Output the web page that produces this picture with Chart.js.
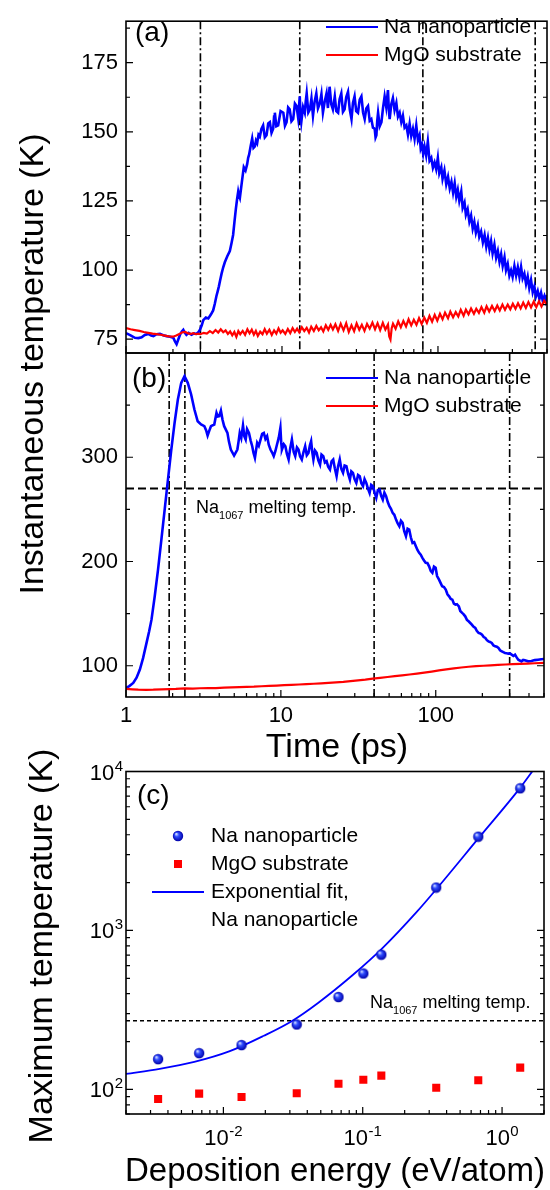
<!DOCTYPE html>
<html>
<head>
<meta charset="utf-8">
<script src="https://cdn.jsdelivr.net/npm/chart.js@4.4.1/dist/chart.umd.min.js"></script>
<style>
  html, body { margin: 0; padding: 0; background: #fff; }
  #wrap { position: relative; width: 550px; height: 1190px; }
  #wrap canvas { position: absolute; left: 0; top: 0; }
</style>
</head>
<body>
<div id="wrap">
  <canvas id="panelA" width="550" height="1190"></canvas>
  <canvas id="panelB" width="550" height="1190"></canvas>
  <canvas id="panelC" width="550" height="1190"></canvas>
</div>
<script>
// --- Panel (a): instantaneous temperature, [time (ps), T (K)] ---
const naA = [[1.00,77.2],[1.07,76.4],[1.14,75.5],[1.20,75.4],[1.26,75.7],[1.32,76.5],[1.39,76.9],[1.45,76.3],[1.50,76.1],[1.57,76.8],[1.65,76.9],[1.73,76.4],[1.82,76.1],[1.92,75.9],[2.01,75.5],[2.06,74.2],[2.11,73.2],[2.16,74.8],[2.22,76.6],[2.28,77.8],[2.33,78.4],[2.38,77.4],[2.44,76.6],[2.52,77.3],[2.63,76.6],[2.73,77.1],[2.83,76.9],[2.92,77.6],[2.98,78.4],[3.06,80.0],[3.13,81.9],[3.25,82.8],[3.37,82.5],[3.50,83.9],[3.62,85.4],[3.71,87.8],[3.80,90.6],[3.87,92.3],[3.94,94.1],[4.02,96.5],[4.10,98.7],[4.20,101.0],[4.30,102.8],[4.46,105.0],[4.63,106.9],[4.75,109.8],[4.86,112.7],[4.96,117.5],[5.06,122.0],[5.15,125.5],[5.24,128.4],[5.30,127.0],[5.37,126.1],[5.53,131.8],[5.69,137.2],[5.84,136.0],[5.98,138.3],[6.07,140.6],[6.16,141.8],[6.30,144.9],[6.44,147.6],[6.57,144.2],[6.70,144.7],[6.81,146.8],[6.93,145.9],[7.07,148.9],[7.21,148.2],[7.38,151.0],[7.57,152.3],[7.76,148.0],[7.96,148.8],[8.16,153.0],[8.36,153.5],[8.57,149.6],[8.78,151.1],[8.90,155.5],[9.0,156.9],[9.2,152.0],[9.45,152.3],[9.8,157.5],[10.2,156.9],[10.45,152.2],[10.7,153.5],[10.95,158.8],[11.2,158.1],[11.5,153.8],[11.8,154.6],[12.1,160.2],[12.4,159.3],[12.7,155.0],[13.0,162.8],[13.15,156.0],[13.3,153.5],[13.65,158.9],[14.0,156.9],[14.2,161.0],[14.4,163.9],[14.75,157.0],[15.1,158.1],[15.45,162.0],[15.8,155.8],[16.2,161.0],[16.6,163.9],[17.0,158.5],[17.5,160.4],[17.9,163.6],[18.3,156.9],[18.8,161.0],[19.3,163.9],[19.7,158.6],[20.2,166.3],[20.7,160.0],[21.2,158.1],[21.8,162.8],
  [22.3,157.5],[22.9,156.9],[23.4,161.8],[24.0,163.9],[24.6,157.2],[25.2,158.1],[25.8,162.5],[26.5,164.5],[27.2,158.0],[27.9,154.6],[28.5,160.4],[29.2,162.8],[29.9,157.5],[30.7,156.9],[31.5,161.6],[32.3,162.8],[33.1,157.0],[33.9,154.6],[34.7,158.4],[35.6,159.3],[36.5,154.0],[37.4,154.6],[38.3,151.5],[39.3,151.1],[39.8,148.0],[40.3,148.8],[40.8,154.0],[41.3,156.9],[42.3,152.0],[43.4,153.5],[44.4,158.5],[45.5,162.8],[46.6,159.0],[47.8,165.1],[48.4,158.0],[49.0,154.6],[50.2,160.0],[51.4,162.2],[52.7,157.8],[54.1,160.4],[55.4,155.5],[56.8,156.9],[58.2,153.5],[59.6,155.8],[61.1,151.5],[62.7,152.3],[64.2,149.0],[65.8,152.9],[67.4,148.5],[69.1,151.1],[70.8,147.5],[72.6,152.3],[74.4,147.0],[76.2,148.8],[77.5,144.0],[78.9,145.3],[80.4,142.0],[82.0,144.7],[84.0,141.5],[86.1,146.5],[88.3,139.5],[90.6,140.6],[92.8,137.0],[95.1,138.9],[97.4,136.5],[99.8,140.6],[102,135.0],[105,137.2],[107,133.0],[110,136.0],[113,131.0],[116,133.7],[119,129.5],[122,131.9],[125,128.0],[128,131.4],[131,126.5],[134,129.0],[137,125.0],[141,128.4],[144,122.5],[148,124.4],[151,120.0],[155,122.0],[159,117.5],[163,119.7],[167,115.0],[171,117.4],[175,113.5],[180,116.2],[184,112.0],[189,113.9],[194,110.0],[199,112.7],[204,108.5],[209,111.6],[214,107.5],[219,110.4],[224,106.0],[230,109.2],[236,104.5],[242,106.9],[248,103.0],[254,105.7],[260,101.5],[267,104.6],[273,100.0],[280,102.2],[287,98.0],[294,99.9],[301,97.5],[309,101.5],[317,98.0],[325,101.0],[333,97.5],[341,101.1],[349,97.0],[358,98.7],[367,95.0],[376,97.6],[385,93.5],[395,96.4],[405,92.0],[415,94.1],[425,90.5],[436,92.4],[447,89.5],[458,91.8],[469,89.0],[481,90.6],[490,88.8],[500,91.0]];
const mgoA = [[1.0,79.0],[1.07,78.6],[1.14,78.3],[1.22,78.0],[1.30,77.6],[1.39,77.3],[1.48,77.0],[1.57,76.8],[1.67,76.6],[1.77,76.3],[1.88,76.0],[2.0,75.9],[2.1,76.3],[2.2,76.9],[2.3,77.5],[2.4,77.6],[2.5,77.1],[2.6,76.9],[2.7,77.2],[2.8,76.8],[2.9,77.0],[3.0,76.8],[3.15,77.3],[3.3,77.0],[3.45,77.9],[3.6,77.2],[3.75,78.3],[3.9,77.4],[4.05,78.6],[4.2,77.5],[4.35,78.2],[4.5,76.9],[4.65,77.8],[4.8,76.4],[4.95,77.6],[5.1,75.8],[5.25,77.9],[5.4,76.8],[5.6,78.0],[5.8,76.6],[6.0,78.6],[6.2,77.1],[6.4,78.4],[6.6,76.6],[6.8,78.0],[7.0,76.2],[7.25,77.7],[7.5,76.8],[7.75,78.6],[8.0,77.0],[8.3,78.4],[8.6,76.5],[8.9,78.2],[9.2,77.0],[9.5,78.9],[9.8,77.3],[10.1,78.2],[10.5,76.9],[10.9,78.7],[11.3,77.2],[11.7,79.0],[12.1,77.6],[12.5,78.8],[12.9,77.5],[13.4,79.3],[13.9,77.9],[14.4,79.1],[14.9,77.4],[15.4,79.5],[16.0,78.0],[16.6,79.8],[17.2,78.2],[17.8,79.3],[18.4,77.8],[19.1,80.0],[19.8,78.4],[20.5,80.2],[21.2,78.5],
  [22.0,80.4],[22.9,78.0],[23.8,80.6],[24.8,78.2],[25.8,80.8],[26.8,77.6],[27.9,80.0],[29.0,77.9],[30.1,80.7],[31.3,78.4],[32.5,80.2],[33.8,78.0],[35.1,80.5],[36.5,78.8],[38.0,81.0],[39.5,78.6],[41.0,80.8],[42.6,78.3],[44.3,80.9],[46.0,78.5],[47.8,80.3],[48.7,76.0],[49.6,74.9],[50.5,79.0],[51.5,80.6],[53.5,78.8],[55.6,81.4],[57.8,79.3],[60.0,81.6],[62.4,79.6],[64.8,82.2],[67.4,80.0],[70.0,82.0],[72.8,80.2],[75.6,82.6],[78.6,80.5],[81.7,82.8],[84.9,80.9],[88.2,83.4],[91.7,81.3],[95.3,83.8],[99.0,81.7],[103,84.2],[107,82.2],[111,84.6],[116,82.6],[120,85.0],[125,82.9],[130,84.8],[135,83.2],[140,85.6],[146,83.5],[151,85.7],[157,84.0],[163,86.1],[170,84.2],[176,86.0],[183,84.5],[190,86.6],[198,84.6],[205,86.9],[213,85.0],[222,87.0],[231,85.2],[240,87.2],[249,85.4],[259,87.5],[269,85.6],[280,87.5],[291,85.8],[302,87.8],[314,86.0],[326,88.0],[339,86.1],[352,88.2],[366,86.3],[380,88.4],[395,86.5],[411,88.6],[427,86.6],[444,88.7],[461,86.8],[480,88.9],[500,87.5]];

// --- Panel (b) ---
const naB = [[1.00,78.7],[1.05,80.5],[1.114,83.5],[1.17,88.5],[1.229,96.3],[1.29,107.5],[1.357,121.9],[1.41,132.8],[1.461,144.2],[1.533,166.6],[1.610,192.2],[1.692,221.0],[1.777,249.8],[1.866,278.6],[1.961,307.4],[2.059,333.0],[2.162,355.4],[2.273,371.4],[2.386,377.7],[2.505,371.4],[2.634,360.2],[2.765,345.8],[2.903,334.5],[3.052,331.4],[3.205,329.8],[3.29,326.0],[3.365,320.8],[3.45,325.5],[3.537,329.8],[3.714,331.4],[3.841,342.6],[3.92,339.0],[3.998,339.3],[4.100,344.8],[4.20,336.0],[4.304,329.8],[4.518,323.4],[4.62,315.0],[4.750,307.4],[4.987,301.6],[5.236,307.4],[5.33,315.0],[5.425,323.4],[5.55,318.5],[5.694,330.4],[5.81,320.0],[5.926,317.0],[6.05,327.0],[6.222,323.4],[6.38,316.0],[6.531,310.6],[6.66,304.0],[6.797,299.4],[7.031,313.8],[7.20,311.0],[7.392,317.0],[7.57,322.5],[7.760,323.4],[7.95,317.5],[8.147,320.2],[8.35,312.0],[8.566,307.4],[8.78,304.5],[8.994,301.0],[9.22,306.0],[9.44,312.2],[9.70,319.0],[9.93,328.2],[10.05,314.0],[10.16,307.4],[10.45,312.5],[10.69,310.6],[10.95,303.0],[11.22,297.8],[11.5,309.0],[11.78,317.0],[12.1,305.0],[12.38,301.0],[12.7,309.5],[13.0,307.4],[13.3,301.0],[13.65,297.8],[14.0,305.0],[14.35,310.6],[14.7,302.0],[15.07,304.2],[15.4,311.5],[15.68,315.4],[15.95,305.0],[16.22,297.8],[16.6,306.5],[17.02,304.2],[17.45,297.0],[17.9,293.0],[18.3,302.5],[18.79,301.0],[19.25,295.0],[19.73,296.2],[20.2,291.0],[20.75,288.2],[21.25,296.0],[21.78,297.8],
  [22.3,289.5],[22.9,281.8],[23.4,291.0],[24.0,297.8],[24.6,288.5],[25.2,285.0],[25.8,292.0],[26.5,291.4],[27.2,284.0],[27.9,278.6],[28.5,286.5],[29.2,285.0],[29.9,279.0],[30.7,275.4],[31.5,283.0],[32.3,281.8],[33.1,275.0],[33.9,272.2],[34.7,279.0],[35.6,275.4],[36.5,270.0],[37.4,265.8],[38.3,273.5],[39.3,272.2],[40.3,266.0],[41.3,261.0],[42.3,268.5],[43.4,269.0],[44.4,263.0],[45.5,259.4],[46.6,266.0],[47.8,262.6],[49.0,257.0],[50.2,253.0],[51.4,250.5],[52.7,246.6],[54.0,244.8],[55.4,240.2],[56.8,236.5],[58.2,233.8],[59.6,239.0],[61.1,237.0],[62.6,229.0],[64.2,224.2],[65.8,231.5],[67.4,230.6],[69.1,223.0],[70.8,217.8],[72.6,218.5],[74.4,214.6],[76.2,211.0],[78.1,208.3],[80.0,206.5],[82.0,203.5],[84.0,201.0],[86.1,198.7],[88.3,198.5],[90.6,195.4],[92.8,191.0],[95.1,189.1],[97.4,195.0],[99.8,193.9],[102,186.0],[105,182.6],[107,180.0],[110,176.2],[113,175.5],[116,173.0],[119,168.5],[122,166.6],[125,164.0],[128,163.4],[131,159.5],[134,158.6],[137,159.0],[141,157.0],[144,152.5],[148,150.7],[151,149.5],[155,147.4],[159,144.0],[163,142.6],[167,141.0],[171,139.4],[175,137.5],[180,136.3],[184,133.5],[189,131.5],[194,131.0],[199,129.8],[204,127.5],[209,126.7],[214,124.5],[219,123.4],[224,122.8],[230,121.9],[236,119.5],[242,118.6],[248,118.2],[254,117.1],[260,114.8],[267,113.8],[273,113.0],[280,112.3],[287,112.0],[294,111.6],[301,111.8],[309,110.6],[317,109.4],[325,110.6],[333,108.0],[341,105.8],[349,105.0],[358,104.2],[367,105.5],[376,105.2],[395,104.2],[415,104.5],[436,105.4],[458,105.8],[480,106.2],[500,106.5]];
const mgoB = [[1.0,77.7],[1.1,77.4],[1.2,77.0],[1.35,76.9],[1.5,77.0],[1.7,77.3],[1.9,77.6],[2.1,77.8],[2.4,78.3],[2.7,78.1],[3.0,78.4],[3.4,78.6],[3.8,78.5],[4.3,79.0],[4.8,79.2],[5.4,79.4],[6.0,79.7],[6.7,79.9],[7.5,80.3],[8.4,80.6],[9.4,80.9],[10.5,81.3],[11.7,81.6],[13.1,82.0],[14.6,82.3],[16.3,82.7],[18.2,83.1],[20.3,83.6],[22.7,84.0],[25.3,84.5],[28.2,85.2],[31.5,85.9],[35.1,86.6],[39.2,87.6],[43.7,88.4],[48.8,89.2],[54.4,90.0],[60.7,90.8],[67.7,91.6],[75.6,92.5],[84.3,93.4],[94.1,94.4],[105,95.5],[117,96.5],[131,97.4],[146,98.3],[163,99.0],[182,99.6],[203,100.0],[226,100.4],[252,100.8],[282,101.2],[314,101.5],[350,101.8],[391,102.1],[436,102.4],[500,102.8]];

// --- Panel (c): maximum temperature vs deposition energy ---
const energies = [0.0034, 0.0067, 0.0135, 0.0336, 0.067, 0.101, 0.136, 0.337, 0.675, 1.35];
const naMax = [155, 169, 190, 256, 381, 536, 704, 1862, 3890, 7840];
const mgoMax = [87, 94, 89.5, 94.5, 108.5, 115, 122, 102.5, 114, 137];
const fitEnergy = [0.002, 0.00349, 0.00618, 0.011, 0.0195, 0.0309, 0.0478, 0.0848, 0.1386, 0.246, 0.341, 0.678, 1.348, 1.668];
const fitTemp = [125.1, 134.5, 148.8, 173.2, 217.3, 268.4, 349.7, 524.2, 774.3, 1318, 1838, 3808, 7889, 10160];

// axis ticks and reference lines
const tempTicksA = [75, 100, 125, 150, 175];
const tempTicksB = [100, 200, 300];
const timeLabels = [1, 10, 100];
const snapA = [3, 13, 80, 420];
const snapB = [1.9, 2.4, 40, 300];
const meltTemp = 270;

const FONT = "'Liberation Sans', Arial, Helvetica, sans-serif";
const BLUE = 'rgb(0,0,255)';
const RED = 'rgb(255,0,0)';
Chart.defaults.font.family = FONT;
Chart.defaults.color = '#000';

function toXY(pairs) { return pairs.map(p => ({ x: p[0], y: p[1] })); }

function logTicks(min, max) {
    const out = [];
    for (let e = Math.floor(Math.log10(min)); e <= Math.ceil(Math.log10(max)); e++) {
        for (let m = 1; m <= 9; m++) {
            const v = +(m * Math.pow(10, e)).toPrecision(6);
            if (v >= min * 0.9999 && v <= max * 1.0001) out.push(v);
        }
    }
    return out;
}
function isDecade(v) { const l = Math.log10(v); return Math.abs(l - Math.round(l)) < 1e-6; }
function withMinors(major) {
    const out = major.slice();
    const half = (major[1] - major[0]) / 2;
    for (let i = 0; i < major.length - 1; i++) out.push((major[i] + major[i + 1]) / 2);
    out.push(major[0] - half, major[major.length - 1] + half);
    return out.sort((a, b) => a - b);
}

function font(size) { return size + 'px ' + FONT; }
function txt(ctx, s, x, y, size, align, base) {
    ctx.font = font(size);
    ctx.textAlign = align || 'left';
    ctx.textBaseline = base || 'alphabetic';
    ctx.fillStyle = '#000';
    ctx.fillText(s, x, y);
}
function rotTxt(ctx, s, x, y, size) {
    ctx.save();
    ctx.translate(x, y);
    ctx.rotate(-Math.PI / 2);
    txt(ctx, s, 0, 0, size, 'center', 'alphabetic');
    ctx.restore();
}
// "Na" + subscript "1067" + " melting temp."
function meltLabel(ctx, x, y) {
    ctx.save();
    txt(ctx, 'Na', x, y, 18);
    let w = ctx.measureText('Na').width;
    txt(ctx, '1067', x + w, y + 6, 11);
    w += ctx.measureText('1067').width;
    txt(ctx, ' melting temp.', x + w, y, 18);
    ctx.restore();
}
// "10" with superscript exponent
function powLabel(ctx, exp, x, y, align) {
    ctx.font = font(22);
    const w10 = ctx.measureText('10').width;
    ctx.font = font(15);
    const we = ctx.measureText(exp).width;
    const total = w10 + we + 0.5;
    const x0 = align === 'right' ? x - total : x - total / 2;
    txt(ctx, '10', x0, y, 22);
    txt(ctx, exp, x0 + w10 + 0.5, y - 9, 15);
}

function lineLegend(ctx, rows, x0, x1, tx) {
    ctx.save();
    rows.forEach(r => {
        ctx.strokeStyle = r.color;
        ctx.lineWidth = 2;
        ctx.setLineDash([]);
        ctx.beginPath(); ctx.moveTo(x0, r.y); ctx.lineTo(x1, r.y); ctx.stroke();
        txt(ctx, r.label, tx, r.y, 21, 'left', 'middle');
    });
    ctx.restore();
}

function vline(chart, value) {
    const { ctx, chartArea: a, scales: { x } } = chart;
    const px = x.getPixelForValue(value);
    ctx.save();
    ctx.strokeStyle = '#000'; ctx.lineWidth = 1.6; ctx.setLineDash([8, 3, 2, 3]);
    ctx.beginPath(); ctx.moveTo(px, a.top); ctx.lineTo(px, a.bottom); ctx.stroke();
    ctx.restore();
}
function hline(chart, value, dash, width) {
    const { ctx, chartArea: a, scales: { y } } = chart;
    const py = y.getPixelForValue(value);
    ctx.save();
    ctx.strokeStyle = '#000'; ctx.lineWidth = width; ctx.setLineDash(dash);
    ctx.beginPath(); ctx.moveTo(a.left, py); ctx.lineTo(a.right, py); ctx.stroke();
    ctx.restore();
}

// box frame with inward ticks on bottom, left and right
function framePlugin(name, majorX, majorY, under, over) {
    return {
        id: 'frame' + name,
        beforeDatasetsDraw(chart) { if (under) under(chart); },
        afterDraw(chart) {
            const { ctx, chartArea: a, scales: { x, y } } = chart;
            ctx.save();
            ctx.strokeStyle = '#000';
            ctx.lineWidth = 1.2;
            ctx.setLineDash([]);
            ctx.beginPath();
            x.ticks.forEach(t => {
                const px = x.getPixelForValue(t.value);
                const len = majorX(t.value) ? 7 : 4;
                ctx.moveTo(px, a.bottom); ctx.lineTo(px, a.bottom - len);
            });
            y.ticks.forEach(t => {
                const py = y.getPixelForValue(t.value);
                const len = majorY(t.value) ? 7 : 4;
                ctx.moveTo(a.left, py); ctx.lineTo(a.left + len, py);
                ctx.moveTo(a.right, py); ctx.lineTo(a.right - len, py);
            });
            ctx.stroke();
            ctx.lineWidth = 1.6;
            ctx.strokeRect(a.left, a.top, a.right - a.left, a.bottom - a.top);
            ctx.restore();
            if (over) over(chart);
        }
    };
}

function timeAxis(showLabels) {
    return {
        type: 'logarithmic', min: 1, max: 500,
        grid: { display: false, drawTicks: false }, border: { display: false },
        afterBuildTicks: s => { s.ticks = logTicks(1, 500).map(v => ({ value: v })); },
        afterFit: s => { s.height = showLabels ? 40 : 0; },
        ticks: {
            display: showLabels, autoSkip: false, maxRotation: 0, padding: 6,
            font: { size: 22 },
            callback: v => timeLabels.includes(v) ? String(v) : ''
        }
    };
}
function tempAxis(min, max, majors) {
    const vals = withMinors(majors).filter(v => v >= min && v <= max);
    return {
        type: 'linear', min: min, max: max, bounds: 'data',
        grid: { display: false, drawTicks: false }, border: { display: false },
        afterBuildTicks: s => { s.ticks = vals.map(v => ({ value: v })); },
        afterFit: s => { s.width = 126; },
        ticks: {
            padding: 8, autoSkip: false, font: { size: 22 },
            callback: v => majors.includes(v) ? String(v) : ''
        }
    };
}
function baseOptions(padding) {
    return {
        responsive: false, animation: false, devicePixelRatio: 1, events: [],
        layout: { padding: padding },
        plugins: { legend: { display: false }, tooltip: { enabled: false } }
    };
}
function series(pairs, color, width) {
    return { data: toXY(pairs), borderColor: color, borderWidth: width, pointRadius: 0, tension: 0, fill: false };
}

// --- Panel (a) ---
const optsA = baseOptions({ left: 0, right: 3, top: 10, bottom: 1190 - 353 });
optsA.scales = { x: timeAxis(false), y: tempAxis(70, 190, tempTicksA) };
new Chart(document.getElementById('panelA'), {
    type: 'line',
    data: { datasets: [series(mgoA, RED, 2.2), series(naA, BLUE, 2.6)] },
    options: optsA,
    plugins: [framePlugin('A', isDecade, v => tempTicksA.includes(v),
        chart => snapA.forEach(t => vline(chart, t)),
        chart => {
            const ctx = chart.ctx;
            txt(ctx, '(a)', 135, 33, 28, 'left', 'middle');
            lineLegend(ctx, [
                { y: 27, color: BLUE, label: 'Na nanoparticle' },
                { y: 55, color: RED, label: 'MgO substrate' }
            ], 326, 378, 384);
            rotTxt(ctx, 'Instantaneous temperature (K)', 43, 364, 34);
        })]
});

// --- Panel (b) ---
const optsB = baseOptions({ left: 0, right: 3, top: 353, bottom: 1190 - 697 - 40 });
optsB.scales = { x: timeAxis(true), y: tempAxis(70, 400, tempTicksB) };
new Chart(document.getElementById('panelB'), {
    type: 'line',
    data: { datasets: [series(mgoB, RED, 2.2), series(naB, BLUE, 2.6)] },
    options: optsB,
    plugins: [framePlugin('B', isDecade, v => tempTicksB.includes(v),
        chart => {
            snapB.forEach(t => vline(chart, t));
            hline(chart, meltTemp, [8, 4], 2);
        },
        chart => {
            const ctx = chart.ctx;
            txt(ctx, '(b)', 132, 379, 28, 'left', 'middle');
            lineLegend(ctx, [
                { y: 378, color: BLUE, label: 'Na nanoparticle' },
                { y: 406, color: RED, label: 'MgO substrate' }
            ], 326, 378, 384);
            meltLabel(ctx, 196, 513);
            txt(ctx, 'Time (ps)', 337, 757, 34, 'center');
        })]
});

// --- Panel (c) ---
const sphere = (function () {
    const r = 5.2, c = document.createElement('canvas');
    c.width = c.height = 12;
    const g = c.getContext('2d');
    const grad = g.createRadialGradient(6 - r * 0.35, 6 - r * 0.4, r * 0.1, 6, 6, r);
    grad.addColorStop(0, '#c8d4ff');
    grad.addColorStop(0.35, '#2f4cff');
    grad.addColorStop(1, '#0000a8');
    g.fillStyle = grad;
    g.beginPath(); g.arc(6, 6, r, 0, 2 * Math.PI); g.fill();
    return c;
})();

const optsC = baseOptions({ left: 0, right: 2, top: 771.5, bottom: 1190 - 1114 });
optsC.scales = {
    x: {
        type: 'logarithmic', min: 0.002, max: 2,
        grid: { display: false, drawTicks: false }, border: { display: false },
        afterBuildTicks: s => { s.ticks = logTicks(0.002, 2).map(v => ({ value: v })); },
        afterFit: s => { s.height = 0; },
        ticks: { display: false }
    },
    y: {
        type: 'logarithmic', min: 70, max: 10000,
        grid: { display: false, drawTicks: false }, border: { display: false },
        afterBuildTicks: s => { s.ticks = logTicks(70, 10000).map(v => ({ value: v })); },
        afterFit: s => { s.width = 126; },
        ticks: { display: false }
    }
};
new Chart(document.getElementById('panelC'), {
    type: 'line',
    data: {
        datasets: [
            {
                data: energies.map((e, i) => ({ x: e, y: naMax[i] })), showLine: false,
                pointStyle: sphere, pointRadius: 5
            },
            {
                data: energies.map((e, i) => ({ x: e, y: mgoMax[i] })), showLine: false,
                pointStyle: 'rect', pointRadius: 5.7, pointBackgroundColor: RED, pointBorderWidth: 0
            },
            {
                data: fitEnergy.map((e, i) => ({ x: e, y: fitTemp[i] })), borderColor: BLUE, borderWidth: 1.8,
                pointRadius: 0, cubicInterpolationMode: 'monotone', fill: false
            }
        ]
    },
    options: optsC,
    plugins: [framePlugin('C', isDecade, isDecade,
        chart => hline(chart, meltTemp, [4, 3], 1.5),
        chart => {
            const ctx = chart.ctx, sx = chart.scales.x, sy = chart.scales.y;
            txt(ctx, '(c)', 137, 796, 28, 'left', 'middle');
            ctx.drawImage(sphere, 178 - 6, 836 - 6);
            txt(ctx, 'Na nanoparticle', 211, 836, 21, 'left', 'middle');
            ctx.fillStyle = RED;
            ctx.fillRect(174, 860, 8, 8);
            txt(ctx, 'MgO substrate', 211, 864, 21, 'left', 'middle');
            ctx.save();
            ctx.strokeStyle = BLUE; ctx.lineWidth = 1.8;
            ctx.beginPath(); ctx.moveTo(152, 892); ctx.lineTo(204, 892); ctx.stroke();
            ctx.restore();
            txt(ctx, 'Exponential fit,', 211, 892, 21, 'left', 'middle');
            txt(ctx, 'Na nanoparticle', 211, 920, 21, 'left', 'middle');
            meltLabel(ctx, 370, 1008);
            [0.01, 0.1, 1].forEach(v => powLabel(ctx, String(Math.round(Math.log10(v))), sx.getPixelForValue(v), 1145, 'center'));
            [100, 1000, 10000].forEach(v => powLabel(ctx, String(Math.round(Math.log10(v))), 123, sy.getPixelForValue(v) + 8, 'right'));
            rotTxt(ctx, 'Maximum temperature (K)', 52, 946, 34);
            txt(ctx, 'Deposition energy (eV/atom)', 335, 1181, 33, 'center');
        })]
});
</script>
</body>
</html>
